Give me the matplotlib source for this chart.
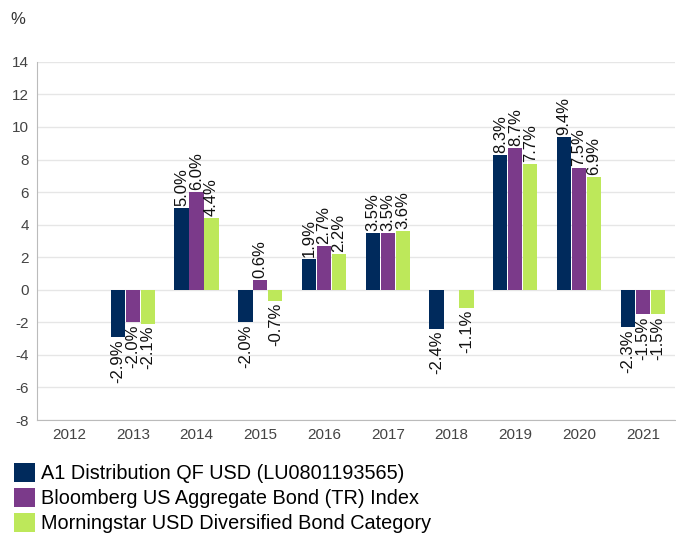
import numpy as np
import matplotlib.pyplot as plt
from matplotlib.patches import Patch

plt.rcParams['font.family'] = ['Liberation Sans', 'DejaVu Sans']
plt.rcParams['axes.unicode_minus'] = False

years = ["2012", "2013", "2014", "2015", "2016", "2017", "2018", "2019", "2020", "2021"]
fund = [None, -2.9, 5.0, -2.0, 1.9, 3.5, -2.4, 8.3, 9.4, -2.3]
index = [None, -2.0, 6.0, 0.6, 2.7, 3.5, None, 8.7, 7.5, -1.5]
category = [None, -2.1, 4.4, -0.7, 2.2, 3.6, -1.1, 7.7, 6.9, -1.5]

series_names = [
    "A1 Distribution QF USD (LU0801193565)",
    "Bloomberg US Aggregate Bond (TR) Index",
    "Morningstar USD Diversified Bond Category",
]
colors = ["#002a5c", "#7b3a8a", "#bde85a"]

fig = plt.figure(figsize=(6.76, 5.33), dpi=100)
ax = fig.add_axes([0.055, 0.212, 0.943, 0.672])

x = np.arange(len(years))
width = 0.235
offsets = [-width, 0, width]

for vals, off, col in zip([fund, index, category], offsets, colors):
    for xi, v in zip(x, vals):
        if v is None:
            continue
        ax.bar(xi + off, v, width * 0.96, color=col, zorder=3)
        txt = f"{v:.1f}%"
        if v >= 0:
            ax.text(xi + off, v + 0.12, txt, rotation=90, ha="center", va="bottom",
                    fontsize=12, color="#111111")
        else:
            ax.text(xi + off, v - 0.12, txt, rotation=90, ha="center", va="top",
                    fontsize=12, color="#111111")

ax.set_xlim(-0.5, len(years) - 0.5)
ax.set_ylim(-8, 14)
ax.set_yticks(range(-8, 15, 2))
ax.set_xticks(x)
ax.set_xticklabels(years)
ax.grid(axis="y", color="#e6e6e6", linewidth=1, zorder=0)
for s in ["top", "right"]:
    ax.spines[s].set_visible(False)
for s in ["left", "bottom"]:
    ax.spines[s].set_color("#bbbbbb")
ax.tick_params(axis="both", length=0, labelsize=11, colors="#444444", pad=6)

fig.text(0.015, 0.963, "%", fontsize=12, color="#333333", va="center")

handles = [Patch(facecolor=c, label=n) for c, n in zip(colors, series_names)]
fig.legend(handles=handles, loc="lower left", bbox_to_anchor=(0.016, -0.006),
           frameon=False, fontsize=14.3, handlelength=1.05, handleheight=1.05,
           handletextpad=0.3, labelspacing=0.25, borderaxespad=0.0,
           borderpad=0.15)

fig.savefig("out.png", dpi=100)
